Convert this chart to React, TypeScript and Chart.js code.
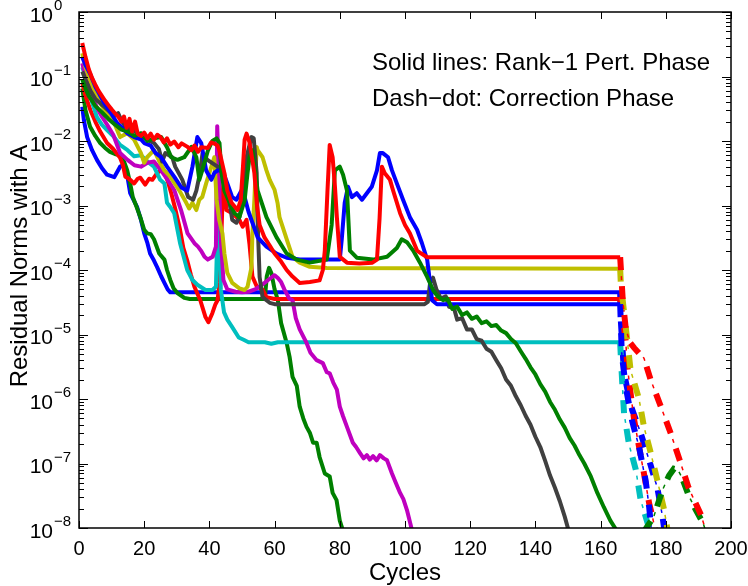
import React, { useEffect, useRef } from "react";
import { Chart, registerables } from "chart.js";

Chart.register(...registerables);

type P = [number, number];

// ---- axis ticks ----
const xTicks = [0, 20, 40, 60, 80, 100, 120, 140, 160, 180, 200];
const yExps = [0, -1, -2, -3, -4, -5, -6, -7, -8];

// ---- series (cycle, residual) ----
const redTop: P[] = [
  [1, 0.33], [2, 0.2], [3, 0.13], [4, 0.095], [5, 0.075], [6, 0.06], [7, 0.05], [8, 0.042], [9, 0.036],
  [10, 0.031], [11, 0.027], [12, 0.024], [13, 0.02], [13.8, 0.024], [14.6, 0.016], [15.5, 0.022], [16.3, 0.014],
  [17.2, 0.02], [18, 0.013], [19, 0.012], [20, 0.0135], [21, 0.011], [22, 0.013], [23, 0.0105], [24, 0.0125],
  [25, 0.0115], [26, 0.0095], [27, 0.011], [28, 0.0088], [29.2, 0.0098], [30.5, 0.008], [31.5, 0.0092],
  [33.3, 0.0081], [34.5, 0.0072], [35.4, 0.0085], [36.5, 0.0068], [37.5, 0.008], [39.5, 0.0078], [40.5, 0.0095],
  [41.5, 0.0091], [42.5, 0.0085], [43, 0.0072], [44.6, 0.0032], [45.5, 0.0017], [46.8, 0.0011], [48.6, 0.00085],
  [49.6, 0.0012], [50.3, 0.004], [50.8, 0.0105], [51.4, 0.013], [52.3, 0.0095], [53.2, 0.005], [53.8, 0.00316],
  [54.6, 0.001], [55.4, 0.0005], [56.9, 0.00032], [58.5, 0.00024], [60, 0.00018], [62, 0.000135], [63.7, 0.0001],
  [65.5, 0.000079], [67.7, 0.000063], [70.8, 0.000065], [73.8, 0.000069], [74.8, 0.0001], [75.4, 0.0002],
  [76.2, 0.0016], [76.9, 0.0087], [77.8, 0.0056], [78.5, 0.002], [79.1, 0.00066], [80, 0.00016], [82.2, 0.00013],
  [86, 0.000126], [90, 0.00013], [91.4, 0.000145], [92.2, 0.00063], [92.9, 0.004], [93.8, 0.00316], [95.4, 0.0025],
  [96.3, 0.00174], [98.5, 0.00076], [100, 0.0005], [101.5, 0.00037], [103.7, 0.0002], [105, 0.00018],
  [106.8, 0.000158], [166, 0.000158],
];
const redTopDash: P[] = [
  [166, 0.000158], [166.3, 0.00009], [166.8, 0.000034], [167.7, 0.0000126], [169, 0.0000075], [170.3, 0.0000062],
  [171.8, 0.0000051], [173.3, 0.0000043], [175.4, 0.00000195], [178.5, 7.6e-7], [181.5, 2.95e-7], [184.4, 1.07e-7],
  [187, 4.2e-8], [190.8, 1.6e-8], [192.3, 9e-9],
];

const greenB: P[] = [
  [1, 0.09], [2, 0.065], [3, 0.05], [5, 0.035], [7, 0.028], [9, 0.022], [11, 0.018], [13, 0.015], [15, 0.014],
  [17, 0.012], [19.1, 0.0132], [21, 0.01], [23, 0.011], [25.2, 0.0115], [27, 0.008], [28.3, 0.0056], [30.2, 0.0051],
  [32.3, 0.0056], [34.5, 0.0081], [36, 0.0056], [36.9, 0.0025], [37.8, 0.0035], [39.5, 0.007], [40.9, 0.01],
  [42.2, 0.011], [43.1, 0.0093], [43.7, 0.0032], [44.6, 0.0017], [46.2, 0.0011], [47.7, 0.00076], [49.2, 0.00066],
  [50.8, 0.0012], [51.7, 0.0032], [52.3, 0.0056], [53.2, 0.0072], [54.8, 0.0017], [57.5, 0.00066], [60.6, 0.00032],
  [63.7, 0.00018], [66.8, 0.000145], [70.8, 0.00013], [76, 0.000145], [77.5, 0.0005], [78.5, 0.0035], [80, 0.004],
  [81, 0.003], [82.2, 0.0017], [83.1, 0.0002], [85.2, 0.000155], [90.2, 0.000145], [94.5, 0.00016], [97.5, 0.00022],
  [99, 0.0003], [100.6, 0.00027], [102.5, 0.0002], [104.6, 0.00013], [106.8, 0.000078], [108.6, 0.000049],
  [110, 0.000039], [111.7, 0.000034], [113, 0.000036], [114.5, 0.000025], [116, 0.000027], [117.5, 0.00002],
  [119, 0.000022], [120.5, 0.0000175], [122, 0.000019], [123.5, 0.000015], [125, 0.000016], [126.5, 0.0000135],
  [128, 0.000014], [129.5, 0.0000115], [131, 0.0000105], [132.5, 0.0000085], [134, 0.0000073], [135.5, 0.0000055],
  [137, 0.0000042], [138.5, 0.0000031], [140, 0.0000024], [141.5, 0.0000017], [143, 0.0000013], [144.5, 9e-7],
  [146, 6.8e-7], [147.5, 4.8e-7], [149, 3.6e-7], [150.5, 2.5e-7], [152, 1.9e-7], [153.5, 1.35e-7], [155, 1e-7],
  [157, 6.3e-8], [159, 3.5e-8], [161, 2.1e-8], [163, 1.3e-8], [165, 9e-9],
];
const greenBDash: P[] = [
  [166, 5e-9], [172, 7e-9], [176.3, 1.5e-8], [179, 3.9e-8], [181, 6.5e-8], [182.5, 8.3e-8], [183.7, 8e-8],
  [185, 6e-8], [187, 3.2e-8], [189, 2e-8], [191.4, 1.2e-8], [193, 7e-9],
];

const blueB: P[] = [
  [1, 0.2], [2, 0.15], [3.4, 0.11], [5, 0.07], [7.7, 0.039], [10, 0.026], [11.7, 0.019], [12.9, 0.0166],
  [14.8, 0.0132], [16.9, 0.0115], [19.1, 0.0105], [20, 0.0093], [22, 0.0085], [23.5, 0.0065], [25.2, 0.0056],
  [27, 0.004], [29.2, 0.0028], [31.4, 0.0019], [33.2, 0.0017], [34.8, 0.004], [36.3, 0.0115], [37.5, 0.0093],
  [39, 0.0035], [40.6, 0.0025], [41.5, 0.0032], [42.5, 0.0035], [44, 0.0035], [45.5, 0.0022], [47, 0.00135],
  [48.3, 0.00123], [49.8, 0.0017], [50.8, 0.00135], [52, 0.0008], [53.2, 0.00054], [54.8, 0.00032], [57.5, 0.00023],
  [60.6, 0.00018], [63.7, 0.000155], [67.7, 0.000145], [72, 0.000145], [76, 0.000145], [80, 0.000145],
  [80.6, 0.0003], [81.5, 0.0011], [82.5, 0.00195], [83.7, 0.00135], [85.2, 0.00155], [86.8, 0.00123],
  [88.3, 0.00155], [89.8, 0.00195], [91.4, 0.0035], [92.3, 0.0065], [93.2, 0.0065], [94.8, 0.0056], [96, 0.0035],
  [97.5, 0.0022], [99.4, 0.00123], [101.5, 0.00066], [103.7, 0.00042], [105.2, 0.00026], [106.8, 0.000145],
  [107.7, 0.000063], [108.3, 0.000034], [109.8, 0.0000295], [166, 0.0000295],
];
const blueBDash: P[] = [
  [166, 0.0000295], [166.5, 0.000005], [167.7, 0.00000155], [169.7, 4.5e-7], [171.8, 1.8e-7], [173.8, 5.5e-8],
  [174.9, 2.1e-8], [175.6, 9e-9],
];

const gray: P[] = [
  [1, 0.12], [2, 0.09], [3.5, 0.06], [5, 0.045], [6.6, 0.038], [8, 0.033], [9.5, 0.028], [11, 0.025], [12, 0.027],
  [13, 0.021], [14.8, 0.0148], [16, 0.016], [17.8, 0.0132], [19, 0.012], [20.9, 0.0105], [23, 0.0093], [24.5, 0.0075],
  [25.5, 0.0048], [26.5, 0.0065], [28.6, 0.0056], [29.5, 0.004], [31.7, 0.0025], [33.5, 0.00135], [35, 0.00123],
  [36, 0.0017], [37, 0.003], [37.9, 0.0065], [39.4, 0.0051], [41, 0.0045], [42.5, 0.004], [44, 0.0032],
  [45.5, 0.0018], [47, 0.0006], [48.3, 0.00054], [49.2, 0.00066], [50.2, 0.00123], [51.4, 0.0056], [52.9, 0.0115],
  [53.6, 0.011], [54.5, 0.0032], [54.8, 0.00054], [55.4, 0.000078], [56.3, 0.000038], [58.5, 0.000031],
  [60, 0.0000295], [106, 0.0000295], [107, 0.000032], [107.7, 0.000063], [108.6, 0.000076], [109.7, 0.000049],
  [111, 0.000036], [112.5, 0.000039], [113.5, 0.000027], [115, 0.000026], [116, 0.000017], [117.5, 0.000018],
  [119, 0.000012], [120.5, 0.000012], [122, 0.0000085], [123.5, 0.000008], [125, 0.000006], [126.5, 0.0000054],
  [128, 0.000004], [129.5, 0.000003], [131, 0.000002], [132.5, 0.0000016], [134, 0.0000011], [135.5, 8e-7],
  [137, 5.5e-7], [138.5, 4e-7], [140, 2.6e-7], [141.5, 1.8e-7], [143, 1.1e-7], [144.5, 6.5e-8], [146, 4.2e-8],
  [147.5, 2.6e-8], [149, 1.5e-8], [150.5, 8e-9],
];

const yellow: P[] = [
  [1, 0.23], [2, 0.14], [3, 0.1], [5, 0.055], [7, 0.035], [9, 0.025], [11, 0.018], [12.6, 0.0115], [14.8, 0.0132],
  [16.9, 0.0105], [19, 0.0065], [20, 0.0046], [20.9, 0.0056], [23, 0.0072], [24.5, 0.005], [26.2, 0.0035],
  [28, 0.0028], [30.8, 0.0017], [32.9, 0.0011], [33.8, 0.0009], [34.8, 0.0011], [36, 0.00085], [36.9, 0.00123],
  [37.8, 0.00135], [39, 0.0022], [40.6, 0.004], [41.5, 0.0056], [42.2, 0.00123], [43, 0.0006], [44, 0.00037],
  [44.6, 0.00018], [45.5, 0.00009], [47, 0.000063], [49.2, 0.000052], [50.8, 0.000049], [51.7, 0.000055],
  [52.9, 0.00011], [53.2, 0.00037], [53.8, 0.00123], [54.5, 0.0081], [54.8, 0.0072], [56.3, 0.0056], [57.5, 0.0035],
  [58.5, 0.0025], [60, 0.00174], [60.9, 0.0011], [61.5, 0.00066], [63.7, 0.0003], [65.5, 0.00016], [67.7, 0.00013],
  [70.8, 0.000112], [76, 0.000107], [166, 0.000105],
];
const yellowDash: P[] = [
  [166, 0.000105], [166.2, 0.000062], [167.2, 0.000022], [168.2, 0.000008], [169.2, 0.0000028], [171.8, 0.000001],
  [173.3, 3.7e-7], [175.4, 1.45e-7], [177.4, 5.5e-8], [179.5, 1.9e-8], [180.6, 9e-9],
];

const magenta: P[] = [
  [1, 0.16], [2, 0.1], [3, 0.07], [4, 0.05], [5.5, 0.033], [7, 0.024], [8.6, 0.018], [10.5, 0.0125], [12.6, 0.0065],
  [14.9, 0.0051], [17, 0.0042], [19, 0.004], [21, 0.0046], [23, 0.0048], [25, 0.0036], [27.2, 0.0025],
  [29.2, 0.00174], [31.3, 0.00085], [33.3, 0.00037], [35.4, 0.00026], [36.5, 0.00023], [37.4, 0.0002],
  [38.5, 0.00016], [39.5, 0.000145], [41, 0.00016], [42, 0.00023], [42.4, 0.017], [42.9, 0.003], [43.5, 0.0003],
  [44.3, 0.00007], [45.5, 0.00005], [48, 0.000046], [50, 0.000045], [52, 0.000046], [54, 0.00005], [56, 0.000058],
  [58, 0.00007], [60, 0.000083], [61, 0.000075], [62, 0.000065], [63, 0.00005], [64.5, 0.000036], [65.5, 0.000034],
  [66.5, 0.000018], [67.7, 0.000012], [69.8, 0.0000074], [71, 0.0000052], [72.9, 0.000004], [74.8, 0.0000036],
  [76, 0.0000026], [76.9, 0.0000025], [78, 0.0000018], [79.1, 0.0000014], [80, 7.6e-7], [81, 5.4e-7],
  [82.2, 3.7e-7], [84, 2.1e-7], [85, 1.8e-7], [86.2, 1.45e-7], [87.3, 1.2e-7], [88.3, 1.35e-7], [89.2, 1.15e-7],
  [90.2, 1.3e-7], [91.3, 1.12e-7], [92.3, 1.35e-7], [93.5, 1.2e-7], [94.5, 1.12e-7], [96, 7e-8], [97.2, 5e-8],
  [98.5, 3.5e-8], [99.5, 2.8e-8], [100.6, 1.9e-8], [102.2, 9e-9],
];

const cyan: P[] = [
  [1, 0.14], [2, 0.1], [3, 0.07], [4, 0.04], [5.5, 0.0234], [7, 0.018], [8.6, 0.0148], [10.8, 0.0115],
  [12.6, 0.0087], [14.9, 0.0072], [16.9, 0.0058], [19, 0.006], [21, 0.0048], [23, 0.004], [24.9, 0.0025],
  [26.2, 0.0022], [27, 0.0011], [28, 0.00095], [29.2, 0.00076], [31, 0.00026], [33.2, 0.0001], [34.8, 0.00007],
  [36.3, 0.000059], [38.8, 0.000049], [40.9, 0.000049], [42, 0.000055], [42.8, 0.002], [43.5, 0.00005],
  [44.5, 0.000022], [45.5, 0.000017], [47, 0.000013], [49, 0.000009], [50.5, 0.0000083], [52, 0.0000076],
  [57, 0.0000076], [59, 0.0000072], [61, 0.0000076], [166, 0.0000076],
];
const cyanDash: P[] = [
  [166, 0.0000076], [166.2, 0.0000046], [166.7, 0.00000155], [167.2, 6e-7], [168.7, 2e-7], [170.8, 8e-8],
  [172.3, 2.7e-8], [174.4, 1.2e-8], [175, 9e-9],
];

const redB: P[] = [
  [1, 0.08], [2, 0.05], [3.5, 0.03], [5, 0.02], [6.5, 0.014], [8.6, 0.0093], [10.5, 0.0075], [12.6, 0.0055],
  [13.5, 0.0042], [14.2, 0.0028], [14.8, 0.0027], [15.7, 0.0025], [16.9, 0.0022], [18, 0.0026], [18.8, 0.0027],
  [20.3, 0.0021], [21.5, 0.0026], [22.5, 0.0025], [24, 0.0032], [25.2, 0.0035], [26.2, 0.0033], [27.2, 0.0024],
  [28.3, 0.00155], [29.5, 0.0009], [31, 0.00042], [32, 0.00022], [33.2, 0.00014], [34.3, 0.000085],
  [35.4, 0.000055], [37.2, 0.000034], [38.8, 0.0000186], [39.7, 0.0000155], [40.9, 0.0000214], [41.8, 0.000029],
  [42.5, 0.000034], [43.1, 0.000063], [43.7, 0.00037], [44.1, 0.0016], [44.5, 0.0032], [45.2, 0.00085],
  [47, 0.00076], [48, 0.00068], [49.2, 0.0006], [50.2, 0.00047], [51.4, 0.0006], [52.3, 0.00025], [53.2, 0.000079],
  [54.5, 0.000056], [56.3, 0.00005], [57.5, 0.000038], [60, 0.0000355], [166, 0.0000355],
];
const redBDash: P[] = [
  [166, 0.0000355], [167, 0.000015], [167.7, 0.000008], [168.2, 0.0000032], [169.2, 0.00000123], [170.3, 4.7e-7],
  [171.8, 1.8e-7], [173.3, 7e-8], [174.9, 2.4e-8], [175.9, 1.5e-8], [176.8, 9e-9],
];

const greenA: P[] = [
  [1, 0.065], [2, 0.03], [3.4, 0.0166], [5, 0.012], [6.5, 0.0093], [8, 0.0078], [9.5, 0.0068], [11, 0.0063],
  [12.6, 0.006], [13.8, 0.0048], [14.8, 0.0035], [15.7, 0.0022], [16.5, 0.00135], [17.5, 0.001], [18.8, 0.00066],
  [20, 0.00042], [20.9, 0.00037], [22, 0.00036], [23, 0.0003], [24.6, 0.00018], [26.2, 0.000145], [27, 0.0001],
  [28, 0.00007], [29, 0.000052], [30.2, 0.000044], [32.3, 0.000037], [34, 0.0000355], [57, 0.0000355],
  [57.6, 0.00008], [58.3, 0.000108], [59, 0.00009], [60, 0.00005], [61, 0.000034], [62, 0.000015],
  [63.7, 0.0000074], [64.6, 0.0000045], [65.5, 0.0000022], [66.8, 0.0000016], [67.7, 7.6e-7], [68.8, 5e-7],
  [69.8, 3.7e-7], [70.8, 3e-7], [71.8, 2.1e-7], [72.9, 2.1e-7], [73.8, 1.26e-7], [75.4, 7e-8], [76.9, 6.3e-8],
  [77.8, 3.5e-8], [79, 2.7e-8], [80, 1.3e-8], [81, 9e-9],
];

const blueA: P[] = [
  [1, 0.034], [1.5, 0.021], [2.5, 0.0115], [4, 0.0072], [5.5, 0.0051], [7, 0.0038], [8.6, 0.003], [10.8, 0.00275],
  [12.6, 0.004], [13.5, 0.0042], [14.5, 0.0036], [15.7, 0.00155], [16.8, 0.0012], [17.8, 0.00095], [19, 0.0006],
  [20, 0.00037], [21, 0.00026], [21.8, 0.00018], [23, 0.00014], [24, 0.00011], [25.2, 0.00008], [26.2, 0.000063],
  [27.2, 0.00005], [28, 0.000045], [166, 0.000045],
];
const blueADash: P[] = [
  [166, 0.000045], [166.2, 0.0000166], [166.7, 0.0000062], [167.2, 0.0000025], [169.2, 8.1e-7], [172.3, 2.95e-7],
  [174.9, 1.12e-7], [177.4, 4.2e-8], [179, 1.5e-8], [179.6, 9e-9],
];

const BLUE = "#0000ff";
const GREEN = "#008000";
const RED = "#ff0000";
const CYAN = "#00bfbf";
const MAGENTA = "#bf00bf";
const YELLOW = "#bfbf00";
const GRAY = "#404040";

const FONT = "'Liberation Sans', Arial, Helvetica, sans-serif";

const toXY = (a: P[]) => a.map(([x, y]) => ({ x, y }));

function solid(data: P[], color: string) {
  return {
    data: toXY(data),
    borderColor: color,
    borderWidth: 4,
    pointRadius: 0,
    fill: false,
    tension: 0,
    borderJoinStyle: "round" as const,
    borderCapStyle: "butt" as const,
    clip: 0,
  };
}
function dashPair(data: P[], color: string) {
  return [
    {
      data: toXY(data),
      borderColor: color,
      borderWidth: 6,
      pointRadius: 0,
      fill: false,
      tension: 0,
      borderDash: [13, 16],
      borderCapStyle: "butt" as const,
      borderJoinStyle: "miter" as const,
      clip: 0,
    },
    {
      data: toXY(data),
      borderColor: color,
      borderWidth: 1.5,
      pointRadius: 0,
      fill: false,
      tension: 0,
      borderDash: [4, 25],
      borderDashOffset: 10,
      borderCapStyle: "butt" as const,
      clip: 0,
    },
  ];
}

const axesPlugin = {
  id: "matlabAxes",
  afterDraw(chart: any) {
    const { ctx, chartArea } = chart;
    const { left, right, top, bottom } = chartArea;
    const xs = chart.scales.x;
    const ys = chart.scales.y;
    ctx.save();
    ctx.strokeStyle = "#000";
    ctx.fillStyle = "#000";
    ctx.lineWidth = 1;
    // ticks (inside, both sides)
    ctx.beginPath();
    for (const t of xTicks) {
      const px = Math.round(xs.getPixelForValue(t)) + 0.5;
      ctx.moveTo(px, bottom);
      ctx.lineTo(px, bottom - 7);
      ctx.moveTo(px, top);
      ctx.lineTo(px, top + 7);
    }
    for (const e of yExps) {
      const py = Math.round(ys.getPixelForValue(Math.pow(10, e))) + 0.5;
      ctx.moveTo(left, py);
      ctx.lineTo(left + 9, py);
      ctx.moveTo(right, py);
      ctx.lineTo(right - 9, py);
      if (e > -8) {
        for (let m = 2; m <= 9; m++) {
          const v = m * Math.pow(10, e - 1);
          const pm = Math.round(ys.getPixelForValue(v)) + 0.5;
          ctx.moveTo(left, pm);
          ctx.lineTo(left + 5, pm);
          ctx.moveTo(right, pm);
          ctx.lineTo(right - 5, pm);
        }
      }
    }
    ctx.stroke();
    // box
    ctx.lineWidth = 1.5;
    ctx.strokeRect(left, top, right - left, bottom - top);

    // x tick labels
    ctx.font = `20px ${FONT}`;
    ctx.textAlign = "center";
    ctx.textBaseline = "middle";
    for (const t of xTicks) {
      ctx.fillText(String(t), xs.getPixelForValue(t), bottom + 21);
    }
    // y tick labels with superscript exponents
    for (const e of yExps) {
      const py = ys.getPixelForValue(Math.pow(10, e));
      ctx.font = `21px ${FONT}`;
      ctx.textAlign = "right";
      ctx.textBaseline = "middle";
      ctx.fillText("10", 53, py + 4);
      ctx.font = `15px ${FONT}`;
      ctx.textAlign = "left";
      ctx.fillText(e === 0 ? "0" : "\u2212" + String(-e), 54, py - 6);
    }
    // axis titles
    ctx.font = `24px ${FONT}`;
    ctx.textAlign = "center";
    ctx.textBaseline = "middle";
    ctx.fillText("Cycles", (left + right) / 2, 573);
    ctx.save();
    ctx.translate(20, 266);
    ctx.rotate(-Math.PI / 2);
    ctx.fillText("Residual Norms with A", 0, 0);
    ctx.restore();
    // annotation text
    ctx.textAlign = "left";
    ctx.textBaseline = "alphabetic";
    ctx.fillText("Solid lines: Rank\u22121 Pert. Phase", 372, 70);
    ctx.fillText("Dash\u2212dot: Correction Phase", 372, 106);
    ctx.restore();
  },
};

export default function App() {
  const ref = useRef<HTMLCanvasElement | null>(null);
  useEffect(() => {
    if (!ref.current) return;
    const datasets: any[] = [
      solid(redTop, RED),
      ...dashPair(redTopDash, RED),
      solid(greenB, GREEN),
      ...dashPair(greenBDash, GREEN),
      solid(blueB, BLUE),
      ...dashPair(blueBDash, BLUE),
      solid(gray, GRAY),
      solid(yellow, YELLOW),
      ...dashPair(yellowDash, YELLOW),
      solid(magenta, MAGENTA),
      solid(cyan, CYAN),
      ...dashPair(cyanDash, CYAN),
      solid(redB, RED),
      ...dashPair(redBDash, RED),
      solid(greenA, GREEN),
      solid(blueA, BLUE),
      ...dashPair(blueADash, BLUE),
    ];
    const chart = new Chart(ref.current, {
      type: "line",
      data: { datasets },
      options: {
        animation: false,
        responsive: false,
        events: [],
        layout: { padding: { left: 79, right: 17, top: 12, bottom: 58 } },
        scales: {
          x: { type: "linear", min: 0, max: 200, display: false },
          y: { type: "logarithmic", min: 1e-8, max: 1, display: false },
        },
        plugins: { legend: { display: false }, tooltip: { enabled: false } },
      },
      plugins: [axesPlugin],
    });
    return () => chart.destroy();
  }, []);
  return (
    <div style={{ position: "fixed", left: 0, top: 0, width: 748, height: 586, background: "#fff" }}>
      <canvas ref={ref} width={748} height={586} />
    </div>
  );
}
